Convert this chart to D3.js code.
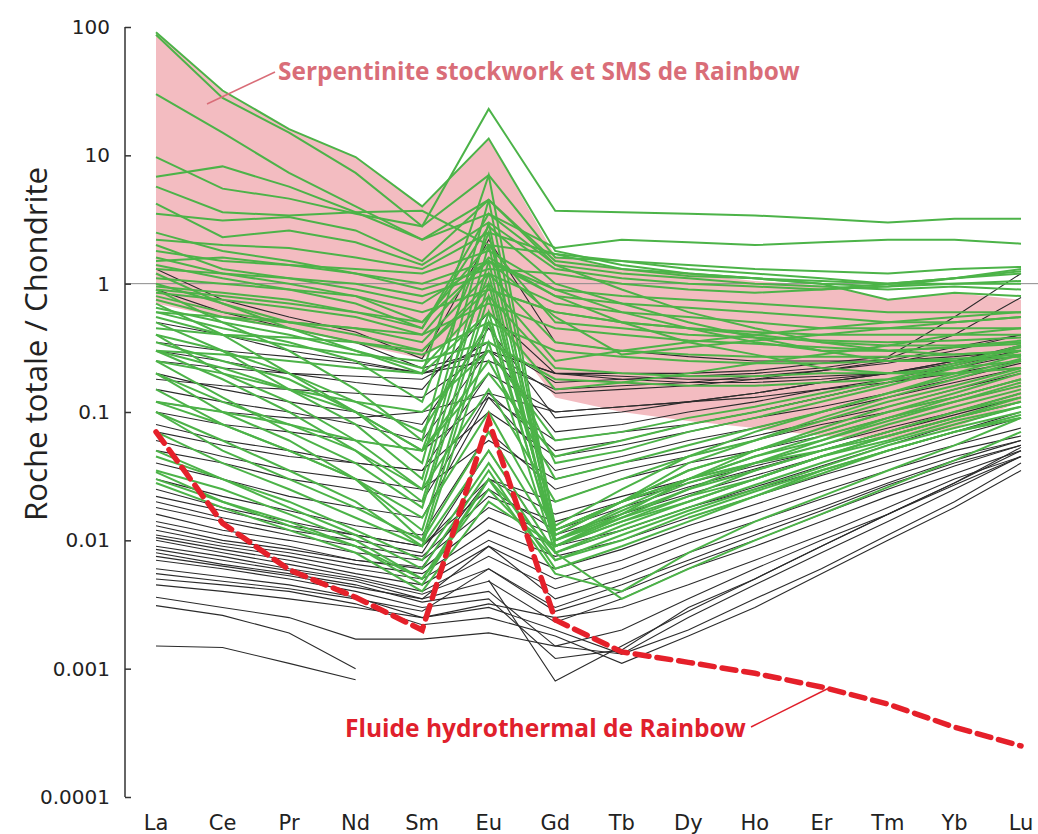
<!DOCTYPE html>
<html>
<head>
<meta charset="utf-8">
<script src="https://cdn.jsdelivr.net/npm/d3@7"></script>
<style>
  html, body { margin: 0; padding: 0; background: #fff; }
  svg { display: block; }
</style>
</head>
<body>
<svg id="chart" width="1038" height="834"></svg>
<script>
// ---------------- DATA ----------------
const elements = ["La","Ce","Pr","Nd","Sm","Eu","Gd","Tb","Dy","Ho","Er","Tm","Yb","Lu"];
const yTickValues = [0.0001, 0.001, 0.01, 0.1, 1, 10, 100];
const yTickLabels = ["0.0001", "0.001", "0.01", "0.1", "1", "10", "100"];

// Serpentinite stockwork et SMS de Rainbow (field envelope)
const pinkUpper = [91, 32, 16, 9.7, 4.0, 13.5, 1.65, 1.3, 1.2, 1.05, 0.97, 0.76, 0.85, 0.75];
const pinkLower = [0.7, 0.54, 0.44, 0.34, 0.26, 0.6, 0.13, 0.1, 0.085, 0.075, 0.065, 0.062, 0.075, 0.12];

// Fluide hydrothermal de Rainbow
const fluidValues = [0.070, 0.0136, 0.0059, 0.0036, 0.0020, 0.086, 0.0024, 0.00135, 0.00112, 0.00092, 0.00072, 0.00053, 0.00035, 0.00025];

// green samples
const greenSeries = [
  [91, 32, 16, 9.7, 4.0, 13.5, 1.8, 1.4, 1.2, 1.1, 1.0, 0.75, 0.85, 0.8],
  [87, 28, 15, 7.3, 2.8, 7.0, 1.6, 1.5, 1.3, 1.2, 1.1, 1.0, 1.0, 1.05],
  [30, 15, 7.3, 4.0, 2.2, 4.5, 1.4, 1.2, 1.1, 1.0, 0.95, 0.9, 0.95, 0.9],
  [9.7, 5.5, 4.6, 3.5, 2.8, 23, 3.7, 3.6, 3.5, 3.4, 3.2, 3.0, 3.2, 3.2],
  [6.8, 8.2, 5.7, 3.6, 2.2, 3.5, 1.9, 2.2, 2.1, 2.0, 2.1, 2.2, 2.2, 2.05],
  [5.7, 3.6, 3.4, 3.6, 3.7, 2.0, 1.7, 1.5, 1.4, 1.3, 1.25, 1.2, 1.3, 1.35],
  [4.2, 2.3, 2.6, 2.1, 1.4, 3.0, 1.3, 1.1, 1.0, 0.95, 0.9, 1.0, 1.1, 1.25],
  [3.5, 3.1, 3.3, 2.6, 1.5, 4.5, 1.5, 1.3, 1.15, 1.1, 1.05, 1.0, 1.1, 1.2],
  [2.2, 2.0, 1.9, 1.6, 1.3, 2.5, 1.7, 1.3, 1.2, 1.1, 1.0, 0.95, 1.0, 1.0],
  [1.8, 1.5, 1.4, 1.3, 1.2, 1.8, 0.9, 0.8, 0.75, 0.7, 0.65, 0.6, 0.6, 0.6],
  [1.5, 1.6, 1.4, 1.2, 1.0, 1.5, 0.8, 0.7, 0.65, 0.6, 0.55, 0.5, 0.5, 0.55],
  [1.3, 1.2, 1.1, 1.0, 0.8, 1.2, 0.7, 0.6, 0.55, 0.5, 0.45, 0.45, 0.45, 0.45],
  [1.1, 1.0, 0.9, 0.8, 0.6, 0.9, 0.6, 0.5, 0.45, 0.42, 0.4, 0.4, 0.4, 0.4],
  [0.95, 0.85, 0.75, 0.6, 0.5, 2.0, 0.5, 0.45, 0.4, 0.38, 0.36, 0.35, 0.36, 0.38],
  [0.85, 0.75, 0.65, 0.55, 0.4, 0.7, 0.45, 0.4, 0.36, 0.34, 0.32, 0.3, 0.32, 0.34],
  [0.8, 0.6, 0.5, 0.45, 0.35, 1.2, 0.35, 0.3, 0.28, 0.27, 0.27, 0.27, 0.28, 0.3],
  [0.75, 0.55, 0.45, 0.35, 0.28, 0.5, 0.3, 0.27, 0.25, 0.24, 0.24, 0.25, 0.26, 0.28],
  [0.65, 0.5, 0.4, 0.3, 0.22, 0.8, 0.22, 0.2, 0.19, 0.19, 0.2, 0.2, 0.22, 0.25],
  [0.55, 0.4, 0.33, 0.28, 0.25, 0.35, 0.18, 0.17, 0.16, 0.16, 0.17, 0.18, 0.2, 0.22],
  [0.9, 0.5, 0.3, 0.15, 0.06, 4.5, 0.012, 0.02, 0.035, 0.05, 0.07, 0.1, 0.14, 0.2],
  [0.7, 0.4, 0.2, 0.1, 0.04, 3.0, 0.010, 0.018, 0.03, 0.045, 0.06, 0.09, 0.12, 0.17],
  [0.5, 0.3, 0.15, 0.08, 0.03, 2.0, 0.011, 0.02, 0.03, 0.04, 0.055, 0.08, 0.11, 0.15],
  [0.4, 0.2, 0.12, 0.06, 0.025, 1.5, 0.009, 0.015, 0.025, 0.04, 0.06, 0.085, 0.12, 0.16],
  [0.3, 0.18, 0.1, 0.05, 0.02, 1.0, 0.010, 0.017, 0.028, 0.04, 0.05, 0.07, 0.1, 0.14],
  [0.25, 0.13, 0.07, 0.04, 0.018, 0.8, 0.011, 0.02, 0.035, 0.05, 0.07, 0.1, 0.13, 0.18],
  [0.2, 0.1, 0.06, 0.03, 0.012, 0.6, 0.009, 0.014, 0.022, 0.035, 0.05, 0.07, 0.1, 0.13],
  [0.12, 0.08, 0.05, 0.03, 0.01, 0.5, 0.010, 0.016, 0.025, 0.035, 0.05, 0.065, 0.09, 0.12],
  [0.1, 0.06, 0.035, 0.02, 0.009, 0.35, 0.008, 0.013, 0.02, 0.03, 0.045, 0.06, 0.085, 0.11],
  [1.2, 0.7, 0.45, 0.3, 0.2, 7.0, 0.012, 0.02, 0.04, 0.06, 0.09, 0.13, 0.18, 0.25],
  [0.6, 0.45, 0.35, 0.25, 0.12, 2.5, 0.013, 0.025, 0.045, 0.07, 0.1, 0.14, 0.19, 0.26],
  [0.35, 0.25, 0.18, 0.1, 0.05, 1.2, 0.009, 0.016, 0.03, 0.05, 0.075, 0.11, 0.15, 0.21],
  [0.1, 0.05, 0.03, 0.018, 0.01, 0.07, 0.01, 0.015, 0.022, 0.03, 0.045, 0.065, 0.09, 0.12],
  [0.07, 0.04, 0.025, 0.015, 0.009, 0.05, 0.008, 0.012, 0.018, 0.027, 0.04, 0.058, 0.08, 0.11],
  [0.05, 0.03, 0.02, 0.012, 0.007, 0.04, 0.007, 0.011, 0.017, 0.025, 0.037, 0.055, 0.075, 0.1],
  [0.045, 0.03, 0.018, 0.011, 0.006, 0.035, 0.006, 0.009, 0.014, 0.022, 0.033, 0.05, 0.07, 0.095],
  [0.035, 0.025, 0.016, 0.01, 0.005, 0.03, 0.0055, 0.004, 0.008, 0.014, 0.022, 0.035, 0.055, 0.09],
  [0.034, 0.02, 0.014, 0.009, 0.0045, 0.03, 0.008, 0.0035, 0.006, 0.01, 0.016, 0.026, 0.042, 0.07],
  [0.03, 0.02, 0.013, 0.009, 0.005, 0.025, 0.007, 0.01, 0.016, 0.024, 0.035, 0.05, 0.07, 0.09],
  [0.028, 0.018, 0.012, 0.008, 0.004, 0.02, 0.009, 0.014, 0.02, 0.03, 0.045, 0.065, 0.09, 0.13],
  [0.15, 0.08, 0.05, 0.03, 0.015, 0.1, 0.012, 0.02, 0.03, 0.045, 0.065, 0.09, 0.13, 0.18],
  [0.2, 0.12, 0.08, 0.05, 0.025, 0.15, 0.02, 0.03, 0.045, 0.06, 0.085, 0.12, 0.16, 0.22],
  [0.4, 0.3, 0.2, 0.12, 0.07, 0.5, 0.04, 0.05, 0.07, 0.09, 0.12, 0.16, 0.22, 0.3],
  [0.3, 0.22, 0.15, 0.1, 0.05, 0.25, 0.03, 0.04, 0.055, 0.075, 0.1, 0.14, 0.2, 0.28],
  [0.25, 0.2, 0.15, 0.12, 0.1, 0.3, 0.06, 0.07, 0.09, 0.11, 0.14, 0.18, 0.24, 0.33],
  [0.12, 0.1, 0.08, 0.06, 0.05, 0.2, 0.045, 0.06, 0.08, 0.1, 0.13, 0.17, 0.23, 0.32],
  [null, null, null, null, null, null, null, null, 0.015, 0.022, 0.035, 0.05, 0.07, 0.09],
  [2.5, 1.8, 1.5, 1.2, 0.9, 1.3, 1.2, 1.0, 0.9, 0.85, 0.9, 0.95, 1.1, 1.3],
  [1.0, 0.7, 0.5, 0.4, 0.3, 0.9, 0.6, 0.5, 0.45, 0.4, 0.35, 0.33, 0.33, 0.35],
  [1.6, 1.2, 1.0, 0.8, 0.5, 1.5, 0.55, 0.28, 0.32, 0.36, 0.4, 0.45, 0.5, 0.55],
  [1.4, 1.1, 0.9, 0.7, 0.45, 3.5, 1.4, 0.9, 0.6, 0.45, 0.35, 0.3, 0.28, 0.3],
  [0.9, 0.8, 0.7, 0.6, 0.45, 2.8, 1.0, 0.7, 0.5, 0.38, 0.3, 0.25, 0.25, 0.27],
  [0.6, 0.55, 0.5, 0.45, 0.4, 1.6, 0.8, 0.5, 0.35, 0.28, 0.22, 0.2, 0.2, 0.22],
  [0.45, 0.4, 0.38, 0.35, 0.3, 1.0, 0.25, 0.3, 0.35, 0.4, 0.45, 0.5, 0.55, 0.6],
  [0.3, 0.28, 0.25, 0.22, 0.2, 0.6, 0.15, 0.17, 0.2, 0.24, 0.28, 0.33, 0.4, 0.45],
  [2.0, 1.3, 1.1, 0.9, 0.7, 1.5, 0.9, 0.6, 0.45, 0.35, 0.3, 0.3, 0.32, 0.36]
];

// black samples
const blackSeries = [
  [1.3, 0.75, 0.55, 0.42, 0.26, 2.2, 0.35, 0.3, 0.27, 0.25, 0.25, 0.25, 0.27, 0.3],
  [0.35, 0.3, 0.27, 0.24, 0.2, 0.3, 0.2, 0.2, 0.2, 0.21, 0.24, 0.27, 0.55, 1.2],
  [0.25, 0.22, 0.2, 0.19, 0.18, 0.35, 0.17, 0.18, 0.19, 0.2, 0.22, 0.26, 0.4, 0.78],
  [0.18, 0.16, 0.15, 0.14, 0.13, 0.3, 0.14, 0.15, 0.16, 0.18, 0.21, 0.25, 0.32, 0.4],
  [0.12, 0.1, 0.09, 0.09, 0.1, 0.14, 0.1, 0.11, 0.12, 0.14, 0.17, 0.2, 0.25, 0.33],
  [0.1, 0.08, 0.07, 0.06, 0.05, 0.13, 0.06, 0.07, 0.08, 0.1, 0.13, 0.17, 0.22, 0.28],
  [0.05, 0.04, 0.03, 0.025, 0.02, 0.14, 0.05, 0.06, 0.08, 0.1, 0.13, 0.17, 0.22, 0.3],
  [0.04, 0.03, 0.022, 0.018, 0.015, 0.13, 0.035, 0.045, 0.06, 0.075, 0.1, 0.13, 0.17, 0.22],
  [0.03, 0.022, 0.017, 0.013, 0.011, 0.07, 0.025, 0.035, 0.045, 0.06, 0.08, 0.1, 0.13, 0.18],
  [0.025, 0.018, 0.014, 0.011, 0.009, 0.03, 0.02, 0.03, 0.04, 0.05, 0.065, 0.09, 0.12, 0.16],
  [0.018, 0.014, 0.011, 0.009, 0.0075, 0.022, 0.014, 0.02, 0.028, 0.038, 0.05, 0.07, 0.1, 0.14],
  [0.016, 0.012, 0.01, 0.008, 0.007, 0.018, 0.011, 0.016, 0.023, 0.032, 0.045, 0.065, 0.09, 0.12],
  [0.014, 0.011, 0.009, 0.007, 0.006, 0.015, 0.009, 0.012, 0.018, 0.025, 0.035, 0.05, 0.07, 0.1],
  [0.012, 0.0095, 0.008, 0.0065, 0.0055, 0.012, 0.0075, 0.01, 0.015, 0.022, 0.032, 0.045, 0.065, 0.09],
  [0.011, 0.009, 0.0075, 0.006, 0.005, 0.01, 0.006, 0.0085, 0.013, 0.019, 0.028, 0.04, 0.055, 0.075],
  [0.0105, 0.0085, 0.007, 0.0055, 0.0045, 0.009, 0.005, 0.007, 0.011, 0.016, 0.024, 0.035, 0.05, 0.065],
  [0.01, 0.008, 0.0065, 0.0052, 0.004, 0.0075, 0.0042, 0.006, 0.0095, 0.014, 0.021, 0.031, 0.045, 0.06],
  [0.009, 0.0075, 0.006, 0.005, 0.0038, 0.006, 0.003, 0.0045, 0.007, 0.011, 0.017, 0.027, 0.04, 0.055],
  [0.0085, 0.007, 0.0058, 0.0048, 0.0035, 0.0048, 0.0023, 0.0035, 0.006, 0.009, 0.014, 0.022, 0.033, 0.05],
  [0.008, 0.0065, 0.0055, 0.0045, 0.0033, 0.004, 0.0015, 0.0013, 0.0025, 0.0045, 0.008, 0.014, 0.025, 0.045],
  [0.007, 0.006, 0.005, 0.004, 0.003, 0.0035, 0.0012, 0.0014, 0.003, 0.005, 0.009, 0.016, 0.028, 0.053],
  [null, null, null, null, null, 0.0049, 0.0008, 0.0015, 0.0028, 0.005, 0.009, 0.016, 0.028, 0.05],
  [0.006, 0.0052, 0.0045, 0.0036, 0.0025, 0.003, 0.002, 0.0013, 0.002, 0.0035, 0.006, 0.011, 0.02, 0.04],
  [0.005, 0.0045, 0.004, 0.0032, 0.0022, 0.0025, 0.0018, 0.0011, 0.0018, 0.003, 0.0055, 0.01, 0.018, 0.035],
  [0.0045, 0.004, 0.0035, 0.003, 0.0025, 0.0032, 0.0025, 0.003, 0.0045, 0.007, 0.011, 0.018, 0.03, 0.045],
  [0.0036, 0.003, 0.0025, 0.0017, 0.0017, 0.0019, 0.0015, 0.002, 0.0035, 0.006, 0.01, 0.016, 0.027, 0.045],
  [0.0031, 0.0026, 0.0019, 0.001, null, null, null, null, null, null, null, null, null, null],
  [0.0015, 0.00146, 0.0011, 0.00082, null, null, null, null, null, null, null, null, null, null],
  [0.02, 0.015, 0.012, 0.01, 0.008, 0.05, 0.008, 0.012, 0.018, 0.026, 0.038, 0.055, 0.08, 0.11],
  [0.022, 0.017, 0.013, 0.011, 0.009, 0.025, 0.012, 0.018, 0.026, 0.036, 0.05, 0.07, 0.095, 0.13],
  [0.013, 0.01, 0.0085, 0.007, 0.0062, 0.03, 0.016, 0.022, 0.03, 0.04, 0.055, 0.075, 0.1, 0.14],
  [0.0075, 0.0063, 0.0053, 0.0043, 0.0035, 0.009, 0.0035, 0.005, 0.008, 0.012, 0.018, 0.028, 0.042, 0.06],
  [0.0055, 0.0048, 0.0042, 0.0035, 0.0028, 0.006, 0.0028, 0.004, 0.0065, 0.01, 0.016, 0.025, 0.038, 0.055],
  [0.2, 0.15, 0.12, 0.1, 0.08, 0.45, 0.09, 0.1, 0.12, 0.14, 0.17, 0.2, 0.25, 0.32],
  [0.15, 0.12, 0.1, 0.08, 0.06, 0.3, 0.07, 0.08, 0.1, 0.12, 0.15, 0.18, 0.23, 0.3],
  [0.08, 0.06, 0.05, 0.04, 0.035, 0.1, 0.045, 0.055, 0.07, 0.09, 0.11, 0.14, 0.18, 0.24],
  [0.06, 0.045, 0.035, 0.03, 0.025, 0.06, 0.03, 0.04, 0.05, 0.065, 0.085, 0.11, 0.15, 0.2],
  [0.9, 0.6, 0.45, 0.35, 0.22, 0.3, 0.2, 0.19, 0.18, 0.18, 0.19, 0.2, 0.22, 0.25],
  [0.5, 0.4, 0.3, 0.25, 0.2, 0.25, 0.15, 0.16, 0.17, 0.19, 0.21, 0.24, 0.3, 0.4],
  [0.3, 0.25, 0.2, 0.17, 0.15, 0.6, 0.2, 0.18, 0.17, 0.17, 0.18, 0.2, 0.24, 0.3],
  [0.07, 0.055, 0.045, 0.04, 0.035, 0.2, 0.1, 0.11, 0.12, 0.13, 0.15, 0.17, 0.2, 0.25]
];

const titleY = "Roche totale / Chondrite";
const labelField = "Serpentinite stockwork et SMS de Rainbow";
const labelFluid = "Fluide hydrothermal de Rainbow";

// ---------------- DRAW ----------------
const svg = d3.select("#chart");
const x = d3.scalePoint().domain(elements).range([156, 1021]);
const y = d3.scaleLog().domain([0.0001, 100]).range([797, 27]);

// pink envelope
const area = d3.area()
  .x((d, i) => x(elements[i]))
  .y0((d, i) => y(pinkLower[i]))
  .y1((d, i) => y(pinkUpper[i]));
svg.append("path").datum(pinkUpper).attr("d", area).attr("fill", "#f3bcc1");

// reference line at 1
svg.append("line")
  .attr("x1", 125).attr("x2", 1038)
  .attr("y1", y(1)).attr("y2", y(1))
  .attr("stroke", "#8a8a8a").attr("stroke-width", 1);

const line = d3.line()
  .defined(d => d != null)
  .x((d, i) => x(elements[i]))
  .y(d => y(d));

svg.append("g").selectAll("path").data(blackSeries).join("path")
  .attr("d", line).attr("fill", "none")
  .attr("stroke", "#2b2b2b").attr("stroke-width", 1.1).attr("stroke-linejoin", "miter");

svg.append("g").selectAll("path").data(greenSeries).join("path")
  .attr("d", line).attr("fill", "none")
  .attr("stroke", "#4cb348").attr("stroke-width", 2).attr("stroke-linejoin", "miter");

svg.append("path").datum(fluidValues).attr("d", line).attr("fill", "none")
  .attr("stroke", "#e5202a").attr("stroke-width", 5.5)
  .attr("stroke-dasharray", "14,8").attr("stroke-linecap", "round");

// y axis
const yAxis = d3.axisLeft(y).tickValues(yTickValues)
  .tickFormat((d, i) => yTickLabels[i]).tickSize(-6).tickPadding(15);
const ga = svg.append("g").attr("transform", "translate(125,0)").call(yAxis);
ga.select(".domain").attr("stroke", "#333").attr("stroke-width", 1.5)
  .attr("d", "M0,27V797");
ga.selectAll(".tick line").attr("stroke", "#333").attr("stroke-width", 1.5);
ga.selectAll(".tick text").attr("font-family", "DejaVu Sans").attr("font-size", 20)
  .attr("fill", "#222");

// x labels
svg.append("g").selectAll("text").data(elements).join("text")
  .attr("x", d => x(d)).attr("y", 830)
  .attr("text-anchor", "middle")
  .attr("font-family", "DejaVu Sans").attr("font-size", 21).attr("fill", "#222")
  .text(d => d);

function fit(sel, target) {
  const fs = +sel.attr("font-size");
  const w = sel.node().getComputedTextLength();
  sel.attr("font-size", (fs * target / w).toFixed(2));
}

// y title
const t = svg.append("text")
  .attr("transform", "translate(47,344) rotate(-90)")
  .attr("text-anchor", "middle")
  .attr("font-family", "Open Sans").attr("font-size", 30).attr("fill", "#222")
  .text(titleY);
fit(t, 354);

// annotations
svg.append("line").attr("x1", 207).attr("y1", 104).attr("x2", 275).attr("y2", 72)
  .attr("stroke", "#d96d78").attr("stroke-width", 1.5);
const a1 = svg.append("text").attr("x", 278).attr("y", 80)
  .attr("font-family", "Open Sans").attr("font-weight", "bold").attr("font-size", 22)
  .attr("fill", "#d96d78").text(labelField);
fit(a1, 522);

svg.append("line").attr("x1", 751).attr("y1", 727).attr("x2", 829).attr("y2", 688)
  .attr("stroke", "#e0202c").attr("stroke-width", 1.5);
const a2 = svg.append("text").attr("x", 345).attr("y", 737)
  .attr("font-family", "Open Sans").attr("font-weight", "bold").attr("font-size", 22)
  .attr("fill", "#e0202c").text(labelFluid);
fit(a2, 401);
</script>
</body>
</html>
